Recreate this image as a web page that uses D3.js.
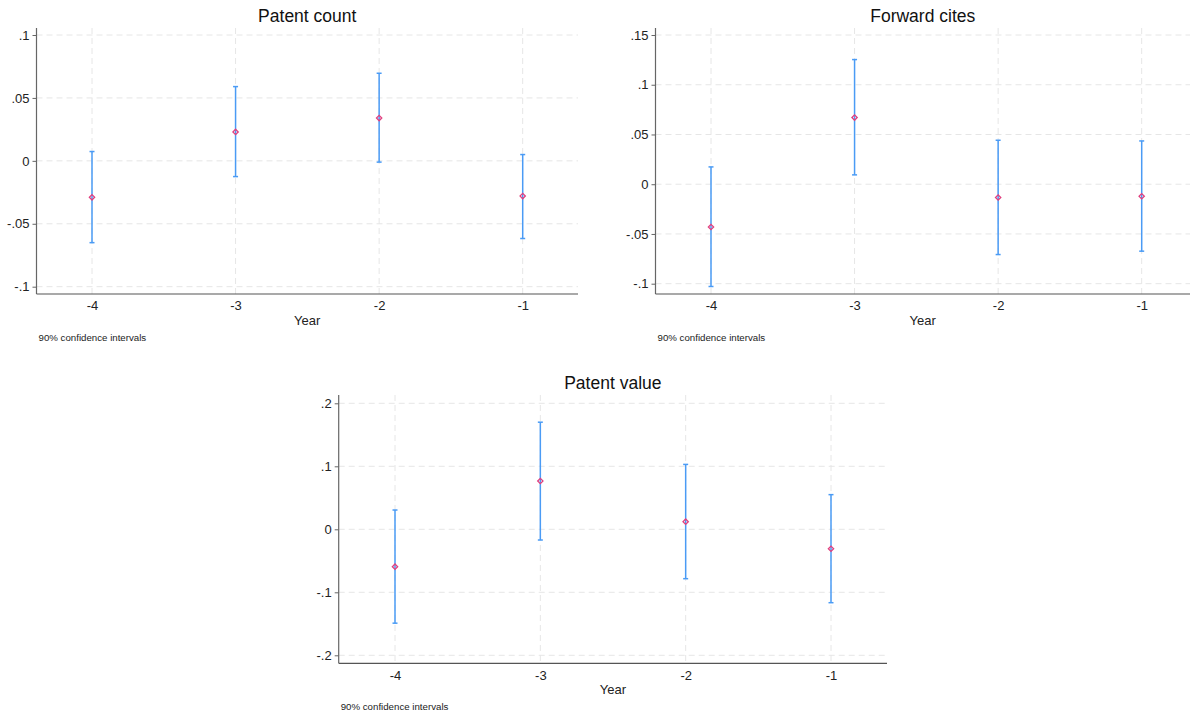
<!DOCTYPE html>
<html lang="en">
<head>
<meta charset="UTF-8">
<title>Pre-trend coefficients</title>
<script src="https://cdn.jsdelivr.net/npm/d3@7"></script>
<style>
  body { margin: 0; background: #fff; }
  svg { display: block; font-family: Arial, "Liberation Sans", sans-serif; }
</style>
</head>
<body>
<div id="chart"></div>
<script>
const years = [-4, -3, -2, -1]

// Patent count
const countEst = [-0.029, 0.023, 0.034, -0.028]
const countLo = [-0.065, -0.0125, -0.001, -0.0617]
const countHi = [0.0074, 0.059, 0.0696, 0.005]
const countTicks = [-0.1, -0.05, 0, 0.05, 0.1]

// Forward cites
const citesEst = [-0.043, 0.067, -0.0134, -0.0121]
const citesLo = [-0.1028, 0.0094, -0.0707, -0.0673]
const citesHi = [0.0174, 0.1253, 0.0442, 0.0435]
const citesTicks = [-0.1, -0.05, 0, 0.05, 0.1, 0.15]

// Patent value
const valueEst = [-0.0593, 0.0767, 0.0121, -0.0308]
const valueLo = [-0.149, -0.017, -0.0784, -0.1165]
const valueHi = [0.0306, 0.17, 0.103, 0.055]
const valueTicks = [-0.2, -0.1, 0, 0.1, 0.2]

const W = 1191, H = 717
const svg = d3.select("#chart").append("svg").attr("width", W).attr("height", H)

// Stata style labels: ".05", "-.1", "0"
const fmt = v => {
    if (Math.abs(v) < 1e-9) return "0"
    let s = String(+v.toFixed(4))
    return s.replace("0.", ".")
}

const panels = [
    { title: "Patent count", est: countEst, lo: countLo, hi: countHi, ticks: countTicks,
      left: 36.5, right: 578, top: 28, bottom: 294, x0: 92, x1: 522.7, yLoPx: 286.7, yHiPx: 35 },
    { title: "Forward cites", est: citesEst, lo: citesLo, hi: citesHi, ticks: citesTicks,
      left: 655.5, right: 1190, top: 28, bottom: 294, x0: 711, x1: 1141.7, yLoPx: 283.7, yHiPx: 35 },
    { title: "Patent value", est: valueEst, lo: valueLo, hi: valueHi, ticks: valueTicks,
      left: 338.7, right: 887, top: 395, bottom: 663.3, x0: 395, x1: 831, yLoPx: 655.3, yHiPx: 403.3 }
]

panels.forEach(p => drawPanel(p))

function drawPanel(p) {
    const g = svg.append("g")
    const tk = p.ticks
    const x = d3.scaleLinear().domain([-4, -1]).range([p.x0, p.x1])
    const y = d3.scaleLinear().domain([tk[0], tk[tk.length - 1]]).range([p.yLoPx, p.yHiPx])
    const midX = (p.left + p.right) / 2

    // grid
    g.selectAll(".hgrid").data(tk).enter().append("line")
        .attr("x1", p.left).attr("x2", p.right)
        .attr("y1", d => y(d)).attr("y2", d => y(d))
        .attr("stroke", "#e6e6e6").attr("stroke-dasharray", "6,4")
    g.selectAll(".vgrid").data(years).enter().append("line")
        .attr("x1", d => x(d)).attr("x2", d => x(d))
        .attr("y1", p.top).attr("y2", p.bottom)
        .attr("stroke", "#e6e6e6").attr("stroke-dasharray", "6,4")

    // y axis
    const yAxis = d3.axisLeft(y).tickValues(tk).tickFormat(fmt).tickSize(4).tickPadding(3)
    const ya = g.append("g").attr("transform", `translate(${p.left},0)`).call(yAxis)
    ya.select(".domain").remove()
    ya.selectAll(".tick line").attr("stroke", "#666")
    ya.selectAll(".tick text").attr("fill", "#222").style("font-size", "13px")
    g.append("line").attr("x1", p.left).attr("x2", p.left)
        .attr("y1", p.top).attr("y2", p.bottom)
        .attr("stroke", "#666").attr("stroke-width", 1.2)

    // x axis
    const xAxis = d3.axisBottom(x).tickValues(years).tickFormat(d => String(d)).tickSize(0).tickPadding(7)
    const xa = g.append("g").attr("transform", `translate(0,${p.bottom})`).call(xAxis)
    xa.select(".domain").remove()
    xa.selectAll(".tick text").attr("fill", "#222").style("font-size", "13px")
    g.append("line").attr("x1", p.left).attr("x2", p.right)
        .attr("y1", p.bottom).attr("y2", p.bottom)
        .attr("stroke", "#555").attr("stroke-width", 1.2)

    // error bars
    const idx = d3.range(years.length)
    const blue = "#4a9bf5"
    g.selectAll(".ci").data(idx).enter().append("line")
        .attr("x1", i => x(years[i])).attr("x2", i => x(years[i]))
        .attr("y1", i => y(p.lo[i])).attr("y2", i => y(p.hi[i]))
        .attr("stroke", blue).attr("stroke-width", 1.5)
    ;["lo", "hi"].forEach(k => {
        g.selectAll(".cap" + k).data(idx).enter().append("line")
            .attr("x1", i => x(years[i]) - 2.5).attr("x2", i => x(years[i]) + 2.5)
            .attr("y1", i => y(p[k][i])).attr("y2", i => y(p[k][i]))
            .attr("stroke", blue).attr("stroke-width", 1.5)
    })

    // markers: small hollow diamonds
    g.selectAll(".pt").data(idx).enter().append("path")
        .attr("d", d3.symbol().type(d3.symbolSquare).size(14))
        .attr("transform", i => `translate(${x(years[i])},${y(p.est[i])}) rotate(45)`)
        .attr("fill", "none").attr("stroke", "#e0407f").attr("stroke-width", 1.3)

    // labels
    g.append("text").attr("x", midX).attr("y", p.top - 6)
        .attr("text-anchor", "middle").style("font-size", "17.5px").attr("fill", "#111")
        .text(p.title)
    g.append("text").attr("x", midX).attr("y", p.bottom + 31)
        .attr("text-anchor", "middle").style("font-size", "13px").attr("fill", "#222")
        .text("Year")
    g.append("text").attr("x", p.left + 2).attr("y", p.bottom + 47)
        .style("font-size", "9.7px").attr("fill", "#222")
        .text("90% confidence intervals")
}
</script>
</body>
</html>
